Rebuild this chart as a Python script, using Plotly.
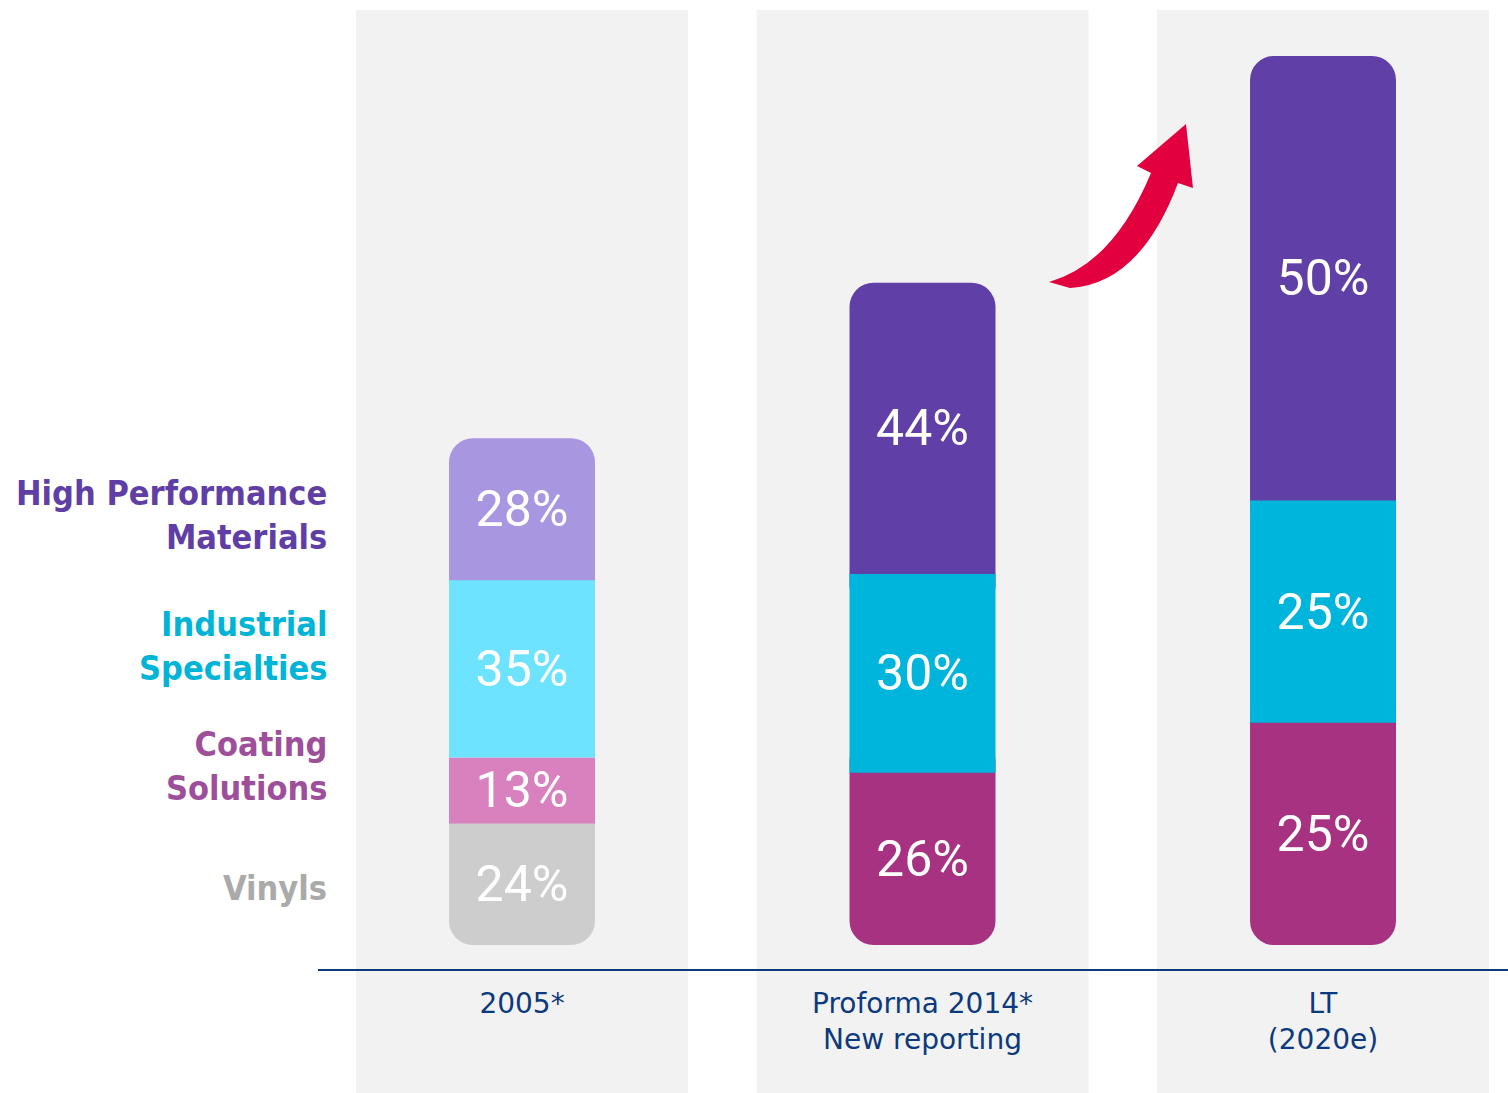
import plotly.graph_objects as go

# ---------------- data ----------------
columns = ["2005*", "Proforma 2014*<br>New reporting", "LT<br>(2020e)"]
bar_totals = [57, 74.5, 100]          # relative bar sizes (LT = 100)
segments = ["Vinyls", "Coating<br>Solutions", "Industrial<br>Specialties", "High Performance<br>Materials"]
shares_2005 = [24, 13, 35, 28]
shares_2014 = [0, 26, 30, 44]
shares_lt = [0, 25, 25, 50]
shares = [shares_2005, shares_2014, shares_lt]

colors_2005 = ["#CDCDCD", "#D980BF", "#6EE3FF", "#A996E0"]
colors_new = ["#CDCDCD", "#A83282", "#00B5DC", "#6040A6"]
col_colors = [colors_2005, colors_new, colors_new]
label_colors = ["#AAAAAA", "#9E4F9A", "#00B4D8", "#5F3FA5"]

# ---------------- layout geometry ----------------
W, H = 1508, 1093
B = 124
PH = H - B
x_dom = [318 / W, 1.0]
x_rng = [-0.5094, 2.4619]
y_rng = [-2.70, 106.30]
bar_w = 0.3645
panel_half = 0.4145
NAVY = "#0C3A7C"
RADIUS = 24
EXT = 4.0  # inward overlap of end segments (hidden under middle segments)


def x_paper(x):
    return x_dom[0] + (x - x_rng[0]) / (x_rng[1] - x_rng[0]) * (x_dom[1] - x_dom[0])


def px2paper(px, py):
    return px / W, (PH - py) / PH


fig = go.Figure()
end_traces, mid_traces, text_traces = [], [], []

for i, col in enumerate(columns):
    vals = [s / 100 * bar_totals[i] for s in shares[i]]
    nz = [j for j, v in enumerate(vals) if v > 0]
    cum = 0.0
    for j, v in enumerate(vals):
        if v <= 0:
            continue
        color = col_colors[i][j]
        is_bottom = j == nz[0]
        is_top = j == nz[-1]
        if is_bottom or is_top:
            b0 = cum
            h = v + EXT
            if is_top:
                b0 = cum - EXT
            end_traces.append(go.Bar(
                x=[i], y=[h], base=[b0], width=bar_w,
                marker=dict(color=color, line=dict(width=0), cornerradius=RADIUS),
                showlegend=False, hoverinfo="skip", cliponaxis=False))
        else:
            mid_traces.append(go.Bar(
                x=[i], y=[v], base=[cum], width=bar_w,
                marker=dict(color=color, line=dict(width=0), cornerradius=0),
                showlegend=False, hoverinfo="skip", cliponaxis=False))
        text_traces.append(go.Bar(
            x=[i], y=[v], base=[cum], width=bar_w,
            marker=dict(color="rgba(0,0,0,0)", line=dict(width=0)),
            text=[f"{shares[i][j]}%"], textposition="inside", insidetextanchor="middle",
            textangle=0, constraintext="none",
            textfont=dict(family="Roboto", size=50, color="white"),
            showlegend=False, hoverinfo="skip", cliponaxis=False))
        cum += v

for t in end_traces + mid_traces + text_traces:
    fig.add_trace(t)

shapes = []
for i in range(len(columns)):
    shapes.append(dict(type="rect", xref="paper", yref="paper",
                       x0=x_paper(i - panel_half), x1=x_paper(i + panel_half),
                       y0=(PH - H) / PH, y1=(PH - 10) / PH,
                       fillcolor="#F2F2F2", line=dict(width=0), layer="below"))

# curved red arrow (decoration)
pts = {
    "t0": (1049, 282), "c1": (1113, 264), "j1": (1151, 173), "b1": (1137, 166),
    "tip": (1186, 124), "b2": (1193, 188), "j2": (1178, 183), "c2": (1140, 284),
    "t1": (1070, 288),
}
P = {k: px2paper(*v) for k, v in pts.items()}
f = lambda k: f"{P[k][0]:.5f},{P[k][1]:.5f}"
path = (f"M {f('t0')} Q {f('c1')} {f('j1')} L {f('b1')} L {f('tip')} L {f('b2')} "
        f"L {f('j2')} Q {f('c2')} {f('t1')} Z")
shapes.append(dict(type="path", xref="paper", yref="paper", path=path,
                   fillcolor="#E2003F", line=dict(width=0), layer="above"))

annotations = []
label_py = [888, 765.5, 645.5, 514.5]
for j, name in enumerate(segments):
    annotations.append(dict(
        x=329 / W, y=(PH - label_py[j]) / PH, xref="paper", yref="paper",
        text=name, showarrow=False, xanchor="right", yanchor="middle", align="right",
        font=dict(family="DejaVu Sans Condensed", size=34, color=label_colors[j], weight="bold"),
    ))

fig.update_layout(
    width=W, height=H,
    margin=dict(l=0, r=0, t=0, b=B, pad=0),
    barmode="overlay",
    paper_bgcolor="white", plot_bgcolor="rgba(0,0,0,0)",
    shapes=shapes, annotations=annotations,
    xaxis=dict(domain=x_dom, range=x_rng, showgrid=False, zeroline=False,
               showline=True, linecolor=NAVY, linewidth=2,
               tickvals=list(range(len(columns))), ticktext=columns, ticks="",
               ticklabelstandoff=8,
               tickfont=dict(family="DejaVu Sans", size=28, color=NAVY), fixedrange=True),
    yaxis=dict(range=y_rng, visible=False, fixedrange=True),
)

fig.write_html("out.html")
